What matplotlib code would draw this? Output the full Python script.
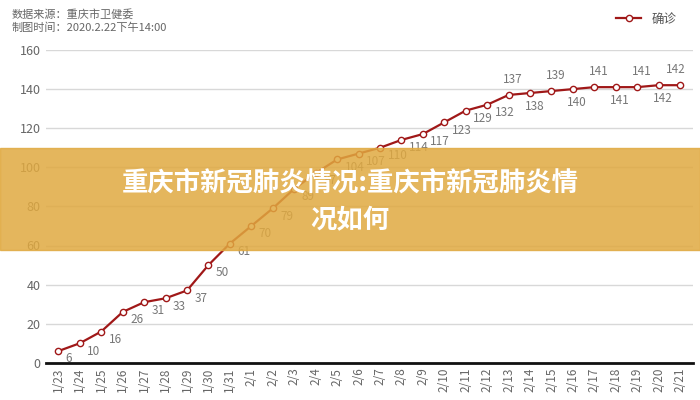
import matplotlib
matplotlib.use("Agg")
import matplotlib.pyplot as plt
from matplotlib.patches import Rectangle

plt.rcParams['font.family'] = ['Noto Sans CJK SC', 'DejaVu Sans']

dates = ['1/23','1/24','1/25','1/26','1/27','1/28','1/29','1/30','1/31','2/1','2/2','2/3','2/4','2/5','2/6',
         '2/7','2/8','2/9','2/10','2/11','2/12','2/13','2/14','2/15','2/16','2/17','2/18','2/19','2/20','2/21']
confirmed = [6,10,16,26,31,33,37,50,61,70,79,89,97,104,107,110,114,117,123,129,132,137,138,139,140,141,141,141,142,142]
label_above = [False]*21 + [True, False, True, False, True, False, True, False, True]

fig = plt.figure(figsize=(7, 4), dpi=100)
ax = fig.add_axes([0.065, 0.093, 0.925, 0.782])
x = list(range(len(dates)))
line, = ax.plot(x, confirmed, color='#a01818', lw=1.6, marker='o', ms=4.5, mfc='white', mec='#a01818', mew=1, label='确诊', zorder=3)
for i, v in enumerate(confirmed):
    if i >= 21:
        dy = 8 if label_above[i] else -7
        ax.text(i + (0.2 if i < 29 else -0.2), v + dy, str(v), fontsize=8.5, color='#777777', ha='center', va='center')
    else:
        ax.text(i + 0.35, v - 4, str(v), fontsize=8.5, color='#777777', ha='left', va='center')

ax.set_ylim(0, 160)
ax.set_xlim(-0.6, 29.6)
ax.set_yticks(range(0, 161, 20))
ax.set_xticks(x)
ax.set_xticklabels(dates, rotation=90, fontsize=8.5, color='#666666')
ax.tick_params(axis='y', labelsize=9, colors='#666666', length=0)
ax.tick_params(axis='x', length=0)
ax.grid(axis='y', color='#d8d8d8', lw=1)
for s in ['top', 'right', 'left']:
    ax.spines[s].set_visible(False)
ax.spines['bottom'].set_color('#111111')
ax.spines['bottom'].set_linewidth(2)
ax.set_axisbelow(True)

fig.text(0.017, 0.965, '数据来源：重庆市卫健委', fontsize=8, color='#666666', va='center')
fig.text(0.017, 0.93, '制图时间：2020.2.22下午14:00', fontsize=8, color='#666666', va='center')
fig.legend(handles=[line], loc='center right', bbox_to_anchor=(0.975, 0.952), frameon=False, fontsize=9,
           handlelength=2, labelcolor='#555555', borderpad=0)

fig.patches.append(Rectangle((0, 0.375), 1, 0.255, transform=fig.transFigure, color='#e0a940', alpha=0.85, zorder=10))
fig.text(0.5, 0.54, '重庆市新冠肺炎情况:重庆市新冠肺炎情', fontsize=19, fontweight='bold', color='white',
         ha='center', va='center', zorder=11)
fig.text(0.5, 0.448, '况如何', fontsize=19, fontweight='bold', color='white', ha='center', va='center', zorder=11)

fig.savefig('out.png', dpi=100)
